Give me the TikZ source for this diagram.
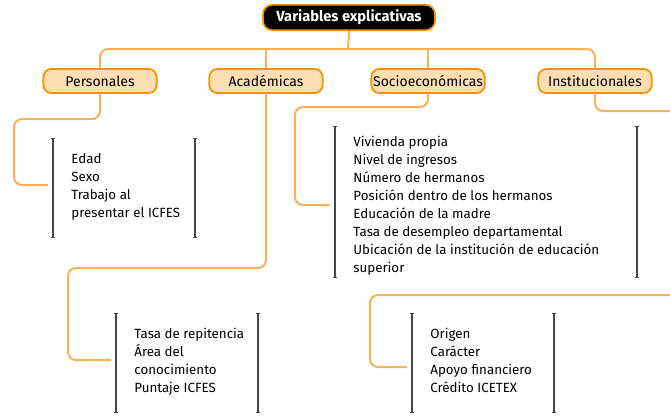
\documentclass[tikz,border=0pt]{standalone}
\usepackage{fontspec}
\setsansfont{Fira Sans}
\usetikzlibrary{arrows.meta}

\definecolor{lineorange}{RGB}{247,178,88}
\definecolor{boxorange}{RGB}{243,146,0}
\definecolor{boxfill}{RGB}{252,222,178}
\definecolor{bargray}{RGB}{70,70,70}

\newcommand{\varlist}[7]{
	\draw[bar] (#2, #4) -- (#2, #5);
	\draw[bar] (#3, #4) -- (#3, #5);
	\node[items] (#1) at (#2 + 18, #6 - 5) {#7};
}

\begin{document}
\begin{tikzpicture}[x=0.75pt,y=-0.75pt,font=\sffamily,semithick,
	conn/.style={draw=lineorange,line width=1.5pt,rounded corners=6pt},
	cat/.style={draw=boxorange,fill=boxfill,line width=1.3pt,rounded corners=6pt,minimum width=85pt,minimum height=18pt,inner sep=0pt,font=\sffamily\fontsize{10.5}{12}\selectfont},
	head/.style={draw=boxorange,fill=black,text=white,line width=1.3pt,rounded corners=7pt,minimum width=129pt,minimum height=19pt,inner sep=0pt,font=\sffamily\bfseries\fontsize{11}{13}\selectfont},
	items/.style={anchor=north west,align=left,inner sep=0pt,font=\sffamily\fontsize{10}{13.5}\selectfont},
	bar/.style={draw=bargray,line width=0.9pt,{Bar[width=3.5pt]}-{Bar[width=3.5pt]}}]
	\useasboundingbox (0,0) rectangle (670,415);

	\node[head] (title) at (349,17.5) {Variables explicativas};

	\node[cat] (pers) at (100,81) {Personales};
	\node[cat] (acad) at (266,81) {Académicas};
	\node[cat] (socio) at (428,81) {Socioeconómicas};
	\node[cat] (inst) at (595,81) {Institucionales};

	\coordinate (bus) at (348,49);
	\draw[conn] (title.south) -- (bus);
	\draw[conn] (pers.north) |- (bus) -| (inst.north);
	\draw[conn] (acad.north) -- (acad.north |- bus);
	\draw[conn] (socio.north) -- (socio.north |- bus);

	\varlist{perslist}{53}{195}{138}{238}{158}{Edad\\Sexo\\Trabajo al\\presentar el ICFES}
	\varlist{acadlist}{116}{258}{313}{413}{333}{Tasa de repitencia\\Área del\\conocimiento\\Puntaje ICFES}
	\varlist{sociolist}{335}{637}{126}{278}{141}{Vivienda propia\\Nivel de ingresos\\Número de hermanos\\Posición dentro de los hermanos\\Educación de la madre\\Tasa de desempleo departamental\\Ubicación de la institución de educación\\superior}
	\varlist{instlist}{412}{554}{313}{413}{333}{Origen\\Carácter\\Apoyo financiero\\Crédito ICETEX}

	% links from each group to its list
	\coordinate (pers-in) at (48,185);
	\coordinate (acad-in) at (111,360);
	\coordinate (socio-in) at (330,205);
	\coordinate (inst-out) at (672,111);
	\coordinate (inst-back) at (672,295);
	\coordinate (inst-in) at (407,367);
	\draw[conn] (pers.south) |- (14,119) |- (pers-in);
	\draw[conn] (acad.south) |- (68,268) |- (acad-in);
	\draw[conn] (socio.south) |- (295,107) |- (socio-in);
	\draw[conn] (inst.south) |- (inst-out);
	\draw[conn] (inst-back) -| (370,367) -- (inst-in);
\end{tikzpicture}
\end{document}
